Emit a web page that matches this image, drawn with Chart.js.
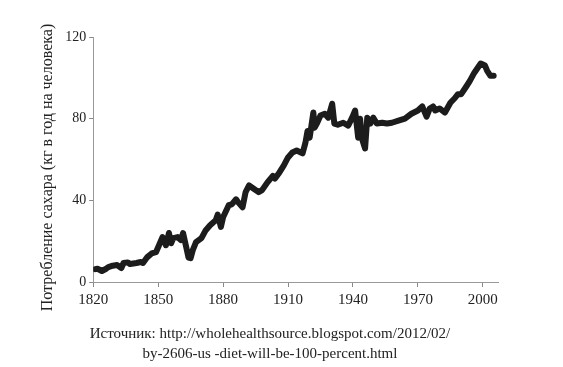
<!DOCTYPE html>
<html>
<head>
<meta charset="utf-8">
<script src="https://cdn.jsdelivr.net/npm/chart.js@4/dist/chart.umd.min.js"></script>
<style>
  body { margin: 0; background: #fff; }
  #wrap { position: relative; width: 563px; height: 367px; }
  #note {
    position: absolute; left: 0; width: 540px; top: 323px;
    text-align: center; font-family: "Liberation Serif", serif;
    font-size: 15px; line-height: 20px; color: #222;
  }
</style>
</head>
<body>
<div id="wrap">
  <canvas id="myChart" width="563" height="367"></canvas>
  <div id="note">Источник: http://wholehealthsource.blogspot.com/2012/02/<br>by-2606-us -diet-will-be-100-percent.html</div>
</div>
<script>
// sugar consumption, kg per person per year
const years = [
  1821, 1822, 1824, 1826, 1827, 1829, 1831, 1833, 1834, 1836, 1837, 1840, 1842, 1843,
  1845, 1847, 1849, 1851, 1852, 1853.6, 1855, 1856, 1857, 1859, 1860.5, 1861.5, 1863,
  1864, 1865, 1866, 1867.5, 1870, 1872, 1874, 1876.6, 1877.5, 1879, 1880, 1882.6, 1884,
  1886, 1887, 1889, 1890.4, 1892, 1894, 1896.4, 1898, 1900.5, 1903, 1904, 1905.6, 1908,
  1910, 1912, 1914, 1916.7, 1918, 1919, 1920, 1921.7, 1922.3, 1923.5, 1925, 1927, 1928.6,
  1930.4, 1931.4, 1933, 1935.5, 1937.8, 1939.6, 1941, 1942.4, 1943.3, 1944, 1945.6, 1946.6,
  1948, 1949.4, 1951, 1953.5, 1955.7, 1958, 1961, 1964, 1967, 1970, 1972, 1974, 1975.5,
  1977, 1978, 1980, 1982.5, 1985, 1987, 1988.5, 1990, 1992.5, 1994, 1996, 1999, 2001,
  2002, 2003.5, 2005
];
const sugar = [
  6.3, 6.5, 5.4, 6.5, 7.3, 8, 8.3, 6.8, 9.3, 9.6, 8.8, 9.3, 9.8, 9.3,
  12.2, 14, 14.6, 19.5, 22, 18, 24, 19, 21.5, 22, 20.5, 24, 17,
  12, 11.7, 15.6, 19.5, 21.5, 25.4, 27.8, 30.2, 33, 27, 31.7, 37.6, 38,
  40.5, 39, 36.6, 44, 47.3, 45.8, 44, 45, 48.8, 52, 50.7, 53, 57,
  61, 63.4, 64.4, 63, 68, 74, 70.7, 83, 75.6, 78, 81.5, 82.4, 80.5,
  87.3, 77.6, 77, 78, 76.6, 80.5, 84, 70.7, 80, 70.7, 65.4, 80.5,
  77.6, 80.5, 77.6, 78, 77.6, 78, 79, 80, 82.4, 84, 86, 81, 85,
  86, 84, 85, 83, 87.8, 90, 92, 92, 96, 98.5, 102.4, 107, 106,
  103.4, 101, 101
];
const xTicks = [1820, 1850, 1880, 1910, 1940, 1970, 2000];
const yTicks = [0, 40, 80, 120];
const yTitle = 'Потребление сахара (кг в год на человека)';

const points = years.map((y, i) => ({ x: y, y: sugar[i] }));
const serif = '"Liberation Serif", "DejaVu Serif", serif';

// the y title sits a little below the middle of the axis in the original
const yTitlePlugin = {
  id: 'yTitleShift',
  afterDraw(chart) {
    const c = chart.ctx;
    const area = chart.chartArea;
    c.save();
    c.font = '16px ' + serif;
    c.fillStyle = '#222';
    c.textAlign = 'center';
    c.textBaseline = 'middle';
    c.translate(48, (area.top + area.bottom) / 2 + 8);
    c.rotate(-Math.PI / 2);
    c.fillText(yTitle, 0, 0);
    c.restore();
  }
};

const ctx = document.getElementById('myChart').getContext('2d');
new Chart(ctx, {
  type: 'line',
  data: {
    datasets: [{
      data: points,
      borderColor: '#1c1c1c',
      borderWidth: 6,
      pointRadius: 0,
      tension: 0,
      borderJoinStyle: 'round',
      borderCapStyle: 'round'
    }]
  },
  options: {
    responsive: false,
    animation: false,
    layout: { padding: { left: 39, right: 65, top: 37, bottom: 54 } },
    plugins: { legend: { display: false }, tooltip: { enabled: false } },
    scales: {
      x: {
        type: 'linear',
        min: 1820,
        max: 2007,
        afterBuildTicks: axis => { axis.ticks = xTicks.map(v => ({ value: v })); },
        grid: { display: true, drawOnChartArea: false, drawTicks: true, tickLength: 5, tickColor: '#888' },
        border: { color: '#999', width: 1 },
        ticks: {
          color: '#222', font: { family: serif, size: 15 }, padding: 4,
          maxRotation: 0, callback: v => String(v)
        }
      },
      y: {
        min: 0,
        max: 120,
        afterBuildTicks: axis => { axis.ticks = yTicks.map(v => ({ value: v })); },
        grid: { display: true, drawOnChartArea: false, drawTicks: true, tickLength: 4, tickColor: '#888' },
        border: { color: '#999', width: 1 },
        ticks: { color: '#222', font: { family: serif, size: 14 }, padding: 3 },
        // space is kept here; the text itself is drawn by yTitlePlugin
        title: {
          display: true, text: yTitle, color: 'rgba(0,0,0,0)',
          font: { family: serif, size: 16 }, padding: { top: 0, bottom: 4 }
        }
      }
    }
  },
  plugins: [yTitlePlugin]
});
</script>
</body>
</html>
